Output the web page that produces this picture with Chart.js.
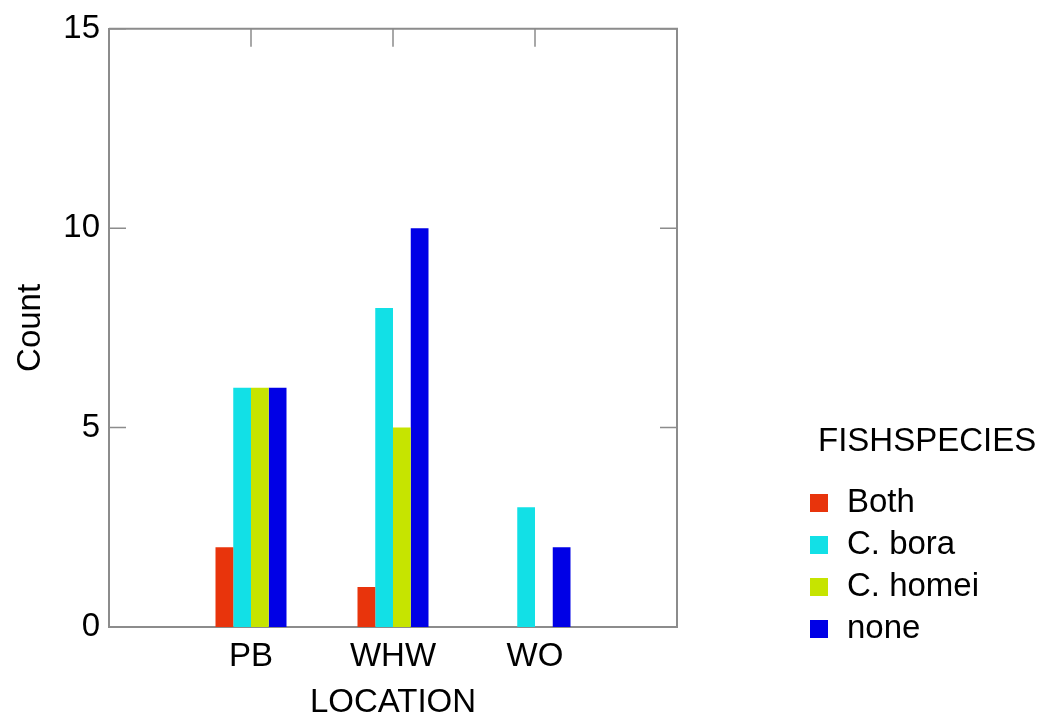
<!DOCTYPE html>
<html>
<head>
<meta charset="utf-8">
<script src="https://cdn.jsdelivr.net/npm/chart.js@4.4.1/dist/chart.umd.min.js"></script>
<style>
  html, body { margin: 0; background: #fff; }
  #wrap { width: 1049px; height: 720px; }
</style>
</head>
<body>
<div id="wrap"><canvas id="fishChart"></canvas></div>
<script>
// blank end slots give the half-empty margins either side of PB and WO
const locations = ["", "PB", "WHW", "WO", ""];
const both = [null, 2, 1, 0, null];
const cBora = [null, 6, 8, 3, null];
const cHomei = [null, 6, 5, 0, null];
const none = [null, 6, 10, 2, null];
const speciesNames = ["Both", "C. bora", "C. homei", "none"];
const speciesColors = ["#e8340c", "#12e0e6", "#c6e400", "#0000e6"];
const yTicks = [0, 5, 10, 15];

const FONT = "Liberation Sans, Arial, Helvetica, sans-serif";
const FS = 33;
const frameColor = "#8c8c8c";

// frame on top/right plus inward tick marks
const framePlugin = {
    id: "frame",
    afterDatasetsDraw(chart) {
        const { ctx, chartArea: a, scales } = chart;
        ctx.save();
        ctx.strokeStyle = frameColor;
        ctx.lineWidth = 2;
        ctx.beginPath();
        ctx.moveTo(a.left, a.top);
        ctx.lineTo(a.right, a.top);
        ctx.lineTo(a.right, a.bottom);
        ctx.stroke();
        ctx.lineWidth = 1.5;
        ctx.beginPath();
        yTicks.forEach(v => {
            const y = scales.y.getPixelForValue(v);
            ctx.moveTo(a.left, y);
            ctx.lineTo(a.left + 17, y);
            ctx.moveTo(a.right, y);
            ctx.lineTo(a.right - 17, y);
        });
        locations.forEach((l, i) => {
            if (!l) return;
            const x = scales.x.getPixelForValue(i);
            ctx.moveTo(x, a.top);
            ctx.lineTo(x, a.top + 18);
        });
        ctx.stroke();
        ctx.restore();
    }
};

// legend on the right, with its title
const legendPlugin = {
    id: "sideLegend",
    afterDraw(chart) {
        const { ctx } = chart;
        ctx.save();
        ctx.fillStyle = "#000";
        ctx.font = FS + "px " + FONT;
        ctx.textBaseline = "middle";
        ctx.fillText("FISHSPECIES", 818, 442);
        chart.data.datasets.forEach((ds, i) => {
            const cy = 503 + i * 42;
            ctx.fillStyle = ds.backgroundColor;
            ctx.fillRect(810, cy - 9, 18, 18);
            ctx.fillStyle = "#000";
            ctx.fillText(ds.label, 847, cy);
        });
        ctx.restore();
    }
};

const datasets = [both, cBora, cHomei, none].map((d, i) => ({
    label: speciesNames[i],
    data: d,
    backgroundColor: speciesColors[i],
    borderWidth: 0,
    categoryPercentage: 0.5,
    barPercentage: 1.0,
}));

const ctx = document.getElementById("fishChart").getContext("2d");
new Chart(ctx, {
    type: "bar",
    data: { labels: locations, datasets: datasets },
    options: {
        responsive: true,
        maintainAspectRatio: false,
        animation: false,
        layout: { padding: { top: 26, right: 372, left: 0, bottom: 0 } },
        plugins: {
            legend: { display: false },
            tooltip: { enabled: false },
        },
        scales: {
            x: {
                type: "category",
                offset: false,
                grid: { display: false, drawTicks: false },
                border: { display: true, color: frameColor, width: 2 },
                ticks: {
                    color: "#000",
                    font: { family: FONT, size: FS },
                    padding: 10,
                    autoSkip: false,
                    maxRotation: 0,
                },
                title: {
                    display: true,
                    text: "LOCATION",
                    color: "#000",
                    font: { family: FONT, size: FS },
                    padding: { top: 0, bottom: -3 },
                },
                afterFit: s => { s.height = 93; },
            },
            y: {
                min: 0,
                max: 15,
                grid: { display: false, drawTicks: false },
                border: { display: true, color: frameColor, width: 2 },
                ticks: {
                    stepSize: 5,
                    color: "#000",
                    font: { family: FONT, size: FS },
                    padding: 9,
                },
                title: {
                    display: true,
                    text: "Count",
                    color: "#000",
                    font: { family: FONT, size: FS },
                    padding: { top: 11, bottom: 0 },
                },
                afterFit: s => { s.width = 109; },
            },
        },
    },
    plugins: [framePlugin, legendPlugin],
});
</script>
</body>
</html>
